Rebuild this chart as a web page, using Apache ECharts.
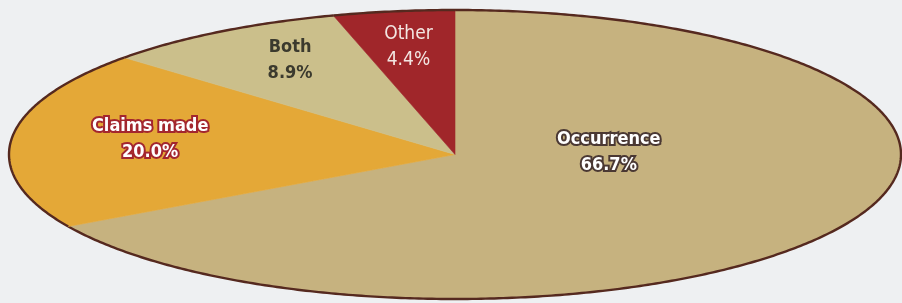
<!DOCTYPE html>
<html>
<head>
<meta charset="utf-8">
<script src="https://cdn.jsdelivr.net/npm/echarts@6/dist/echarts.min.js"></script>
<style>
  html, body { margin: 0; padding: 0; background: #eef0f2; }
  #chart { width: 902px; height: 303px; }
</style>
</head>
<body>
<div id="chart"></div>
<script>
// slice data, clockwise from 12 o'clock
const names = ['Occurrence', 'Claims made', 'Both', 'Other']
const shares = [66.7, 20.0, 8.9, 4.4]

// styling
const sliceColors = ['#c6b27f', '#e4a837', '#cbbf8b', '#a0262a']
const labelStyles = [
  { fill: '#ffffff', stroke: '#4a3833', lineWidth: 4, font: 'bold condensed 18px "DejaVu Sans"' },
  { fill: '#ffffff', stroke: '#a3262e', lineWidth: 4, font: 'bold condensed 18px "DejaVu Sans"' },
  { fill: '#3b3a2e', stroke: null, lineWidth: 0, font: 'bold condensed 18px "DejaVu Sans"' },
  { fill: '#f3e6e2', stroke: null, lineWidth: 0, font: 'condensed 19px "DejaVu Sans"' }
]
// label placement: angle (deg clockwise from top) and fraction of radius
const labelPlace = [
  { angle: 88, r: 0.345 },
  { angle: 279, r: 0.692 },
  { angle: 330.5, r: 0.751 },
  { angle: 352, r: 0.75 }
]

// stretched pie geometry
const pie = { cx: 455, cy: 154.5, rx: 446, ry: 144.5 }

const chart = echarts.init(document.getElementById('chart'))

const total = shares.reduce((a, b) => a + b, 0)

// point on the ellipse for an angle measured clockwise from top (radians)
const rim = (a, f) => [pie.cx + Math.sin(a) * pie.rx * f, pie.cy - Math.cos(a) * pie.ry * f]

const renderSlice = (params, api) => {
  const i = params.dataIndex
  let before = 0
  for (let k = 0; k < i; k++) before += shares[k]
  const t0 = before / total * Math.PI * 2
  const t1 = t0 + api.value(0) / total * Math.PI * 2

  const steps = Math.max(8, Math.ceil((t1 - t0) / 0.01))
  const arcPts = []
  for (let s = 0; s <= steps; s++) {
    arcPts.push(rim(t0 + (t1 - t0) * s / steps, 1))
  }

  const lp = labelPlace[i]
  const [lx, ly] = rim(lp.angle * Math.PI / 180, lp.r)
  const ls = labelStyles[i]

  return {
    type: 'group',
    children: [
      {
        type: 'polygon',
        shape: { points: [[pie.cx, pie.cy]].concat(arcPts) },
        style: { fill: sliceColors[i], stroke: sliceColors[i], lineWidth: 0.6 }
      },
      {
        type: 'polyline',
        shape: { points: arcPts },
        style: { fill: null, stroke: '#55291f', lineWidth: 2.4 }
      },
      {
        type: 'text',
        x: lx,
        y: ly,
        z2: 10,
        style: {
          text: names[i] + '\n' + api.value(0).toFixed(1) + '%',
          fill: ls.fill,
          stroke: ls.stroke,
          lineWidth: ls.lineWidth,
          strokeFirst: true,
          font: ls.font,
          lineHeight: 26,
          align: 'center',
          verticalAlign: 'middle'
        }
      }
    ]
  }
}

const option = {
  backgroundColor: '#eef0f2',
  animation: false,
  series: [
    {
      type: 'custom',
      coordinateSystem: 'none',
      renderItem: renderSlice,
      data: shares.map((v, i) => ({ name: names[i], value: [v] }))
    }
  ]
}

chart.setOption(option)
window.addEventListener('resize', () => chart.resize())
</script>
</body>
</html>
